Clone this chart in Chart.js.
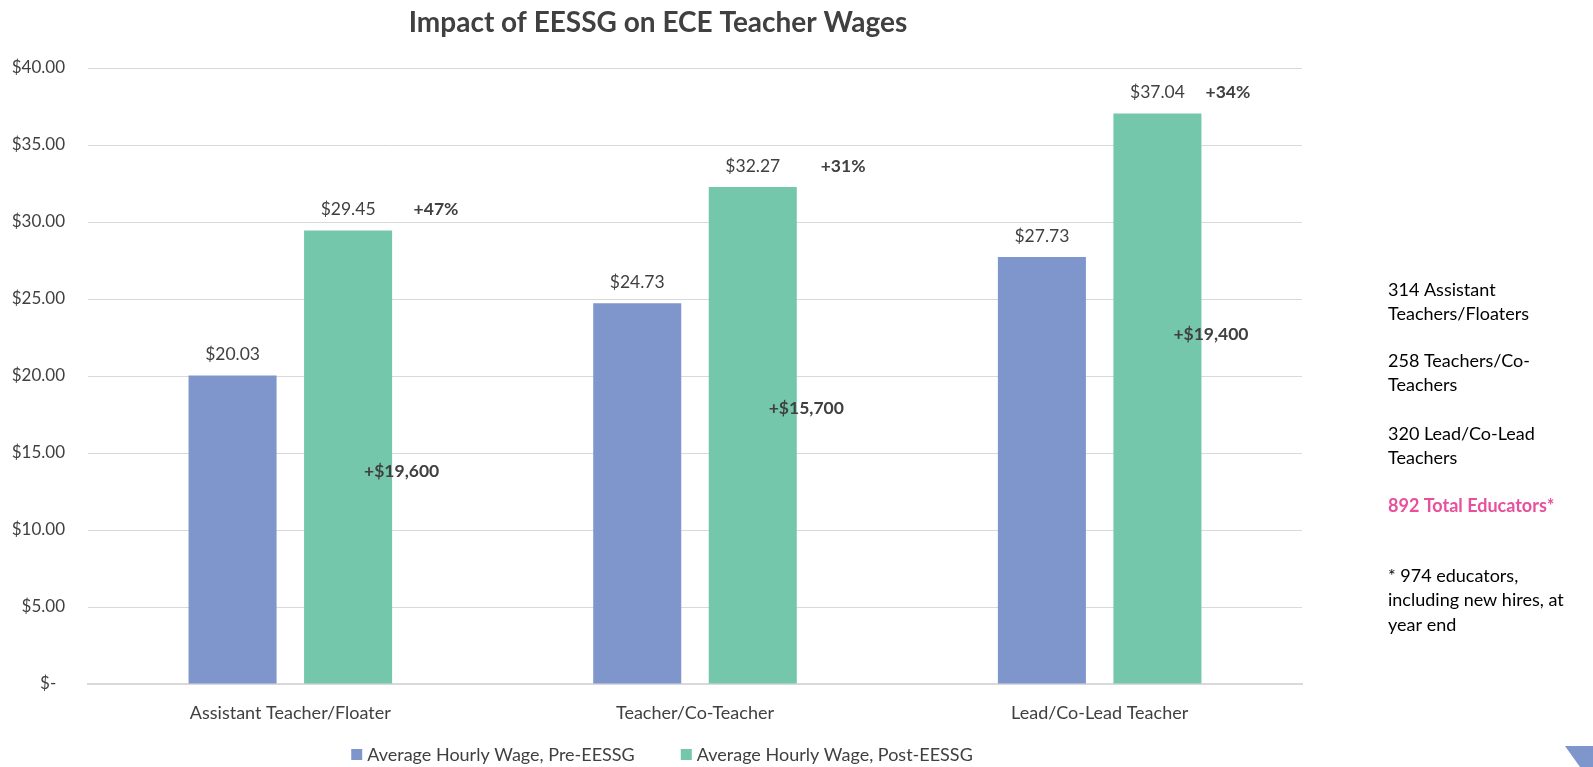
<!DOCTYPE html>
<html>
<head>
<meta charset="utf-8">
<script src="https://cdn.jsdelivr.net/npm/chart.js@4.4.1/dist/chart.umd.min.js"></script>
<style>
  body { margin: 0; background: #fff; }
  #wrap { position: relative; width: 1593px; height: 767px; }
</style>
</head>
<body>
<div id="wrap"><canvas id="wages"></canvas></div>
<script>
const categories = ["Assistant Teacher/Floater", "Teacher/Co-Teacher", "Lead/Co-Lead Teacher"];
const preWages = [20.03, 24.73, 27.73];
const postWages = [29.45, 32.27, 37.04];
const pctChange = ["+47%", "+31%", "+34%"];
const annualGain = ["+$19,600", "+$15,700", "+$19,400"];
const gainLevel = [13.8, 17.9, 22.7]; // wage level where the yearly gain note sits
const seriesNames = ["Average Hourly Wage, Pre-EESSG", "Average Hourly Wage, Post-EESSG"];
const sideNotes = [
  ["314 Assistant", "Teachers/Floaters"],
  ["258 Teachers/Co-", "Teachers"],
  ["320 Lead/Co-Lead", "Teachers"],
  ["892 Total Educators*"],
  ["* 974 educators,", "including new hires, at", "year end"]
];

const FONT = "Lato, 'Open Sans', sans-serif";
const TEXT = "#404040";
const BLUE = "#7f96cd";
const GREEN = "#74c7ab";

// placement of the notes next to the bars (fraction of one category width)
const pctShift = [0.36, 0.366, 0.317];
const gainShift = 0.275;
const noteTops = [290, 361, 434, 506, 576];

const extras = {
  id: "extras",
  afterDatasetsDraw(chart) {
    const ctx = chart.ctx;
    const x = chart.scales.x;
    const y = chart.scales.y;
    const catW = x.getPixelForValue(1) - x.getPixelForValue(0);
    ctx.save();

    // value labels above bars
    ctx.font = "17.5px " + FONT;
    ctx.fillStyle = TEXT;
    ctx.textAlign = "center";
    ctx.textBaseline = "middle";
    chart.data.datasets.forEach((ds, di) => {
      chart.getDatasetMeta(di).data.forEach((bar, i) => {
        ctx.fillText("$" + ds.data[i].toFixed(2), bar.x, bar.y - 21);
      });
    });

    // percent change and yearly gain
    ctx.font = "bold 17.5px " + FONT;
    categories.forEach((c, i) => {
      const cx = x.getPixelForValue(i);
      const top = chart.getDatasetMeta(1).data[i].y - 21;
      ctx.fillText(pctChange[i], cx + pctShift[i] * catW, top);
      ctx.fillText(annualGain[i], cx + gainShift * catW, y.getPixelForValue(gainLevel[i]));
    });

    // title
    ctx.font = "bold 28px " + FONT;
    ctx.fillText("Impact of EESSG on ECE Teacher Wages", 658, 23);

    // legend
    ctx.font = "18px " + FONT;
    ctx.textAlign = "left";
    const colors = [BLUE, GREEN];
    const widths = seriesNames.map(n => 16 + ctx.measureText(n).width);
    const gap = 46;
    let lx = 662 - (widths[0] + widths[1] + gap) / 2;
    seriesNames.forEach((n, i) => {
      ctx.fillStyle = colors[i];
      ctx.fillRect(lx, 749, 11, 11);
      ctx.fillStyle = TEXT;
      ctx.fillText(n, lx + 16, 755);
      lx += widths[i] + gap;
    });

    // side notes
    sideNotes.forEach((block, bi) => {
      if (bi === 3) {
        ctx.font = "bold 18px " + FONT;
        ctx.fillStyle = "#e84f9c";
      } else {
        ctx.font = "18px " + FONT;
        ctx.fillStyle = "#000";
      }
      block.forEach((line, li) => {
        ctx.fillText(line, 1388, noteTops[bi] + li * 24.6);
      });
    });

    // corner shape
    ctx.fillStyle = BLUE;
    ctx.beginPath();
    ctx.moveTo(1565, 746);
    ctx.lineTo(1593, 746);
    ctx.lineTo(1593, 767);
    ctx.lineTo(1580, 767);
    ctx.closePath();
    ctx.fill();
    ctx.restore();
  }
};

new Chart(document.getElementById("wages"), {
  type: "bar",
  data: {
    labels: categories,
    datasets: [
      { label: seriesNames[0], data: preWages, backgroundColor: BLUE },
      { label: seriesNames[1], data: postWages, backgroundColor: GREEN }
    ]
  },
  options: {
    responsive: true,
    maintainAspectRatio: false,
    animation: false,
    categoryPercentage: 0.571,
    barPercentage: 0.762,
    layout: { padding: { top: 68, right: 291, left: 0, bottom: 0 } },
    plugins: {
      legend: { display: false },
      title: { display: false },
      tooltip: { enabled: false }
    },
    scales: {
      x: {
        grid: { display: false },
        border: { color: "#d9d9d9", width: 2 },
        ticks: { color: TEXT, padding: 10, font: { family: FONT, size: 18 } },
        afterFit: s => { s.height = 83; }
      },
      y: {
        min: 0,
        max: 40,
        grid: { color: "#d9d9d9", drawTicks: false },
        border: { display: false },
        ticks: {
          stepSize: 5,
          color: TEXT,
          padding: 23,
          font: { family: FONT, size: 17 },
          callback: v => v === 0 ? "$-  " : "$" + v.toFixed(2)
        },
        afterFit: s => { s.width = 88; }
      }
    }
  },
  plugins: [extras]
});
</script>
</body>
</html>
